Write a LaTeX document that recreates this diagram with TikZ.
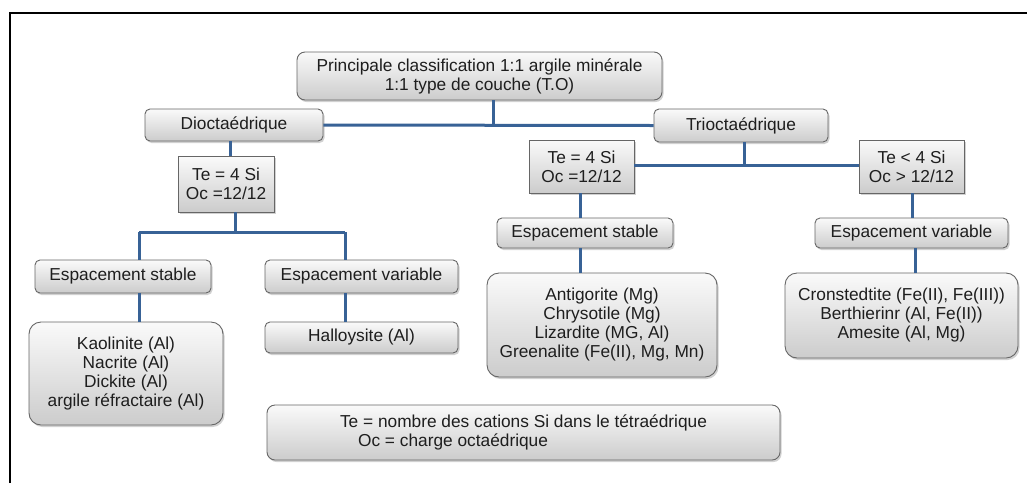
\documentclass[tikz,border=0pt]{standalone}
\usepackage{fontspec}
\setmainfont{Liberation Sans}
\usetikzlibrary{shadows}
\definecolor{linkblue}{RGB}{56,98,150}
\definecolor{txtgray}{RGB}{30,30,30}
\begin{document}
\begin{tikzpicture}[x=1pt,y=-1pt,
  box/.style={draw=black!60, line width=0.9pt, top color=gray!4, bottom color=gray!40,
    drop shadow={shadow xshift=1.5pt, shadow yshift=-2pt, fill=black!40, opacity=0.45},
    text=txtgray, font=\fontsize{17.3}{19}\selectfont, align=center, inner sep=0pt},
  rbox/.style={box, rounded corners=5pt},
  bigbox/.style={box, rounded corners=12pt},
  sbox/.style={box},
  link/.style={draw=linkblue, line width=3pt},
  frame/.style={draw=black, line width=2.5pt}]
\useasboundingbox (0,0) rectangle (1027,483);
\fill[white] (0,0) rectangle (1027,483);
\draw[frame] (10,483) -- (10,13) -- (1027,13);

\node[rbox, rounded corners=8pt, minimum width=365pt, minimum height=48pt] (top) at (479.5,76)
  {Principale classification 1:1 argile minérale\\1:1 type de couche (T.O)};
\node[rbox, minimum width=178pt, minimum height=32pt] (dio) at (234,125) {Dioctaédrique};
\node[rbox, minimum width=174pt, minimum height=33pt] (tri) at (741,125.5) {Trioctaédrique};
\node[sbox, minimum width=96pt, minimum height=56pt] (te1) at (226,184) {Te = 4 Si\\Oc =12/12};
\node[sbox, minimum width=105pt, minimum height=53pt] (te2) at (581.5,166.5) {Te = 4 Si\\Oc =12/12};
\node[sbox, minimum width=105pt, minimum height=53pt] (te3) at (911.5,166.5) {Te < 4 Si\\Oc > 12/12};
\node[rbox, minimum width=176pt, minimum height=33pt] (es1) at (123,276.5) {Espacement stable};
\node[rbox, minimum width=193pt, minimum height=33pt] (ev1) at (361.5,276.5) {Espacement variable};
\node[bigbox, minimum width=194pt, minimum height=103pt] (kao) at (126,373.5)
  {Kaolinite (Al)\\Nacrite (Al)\\Dickite (Al)\\argile réfractaire (Al)};
\node[rbox, minimum width=193pt, minimum height=31pt] (hal) at (361.5,337.5) {Halloysite (Al)};
\node[rbox, minimum width=176pt, minimum height=30pt] (es2) at (585,233) {Espacement stable};
\node[rbox, minimum width=193pt, minimum height=30pt] (ev2) at (911.5,233) {Espacement variable};
\node[bigbox, minimum width=230pt, minimum height=104pt] (ant) at (602,325)
  {Antigorite (Mg)\\Chrysotile (Mg)\\Lizardite (MG, Al)\\Greenalite (Fe(II), Mg, Mn)};
\node[bigbox, minimum width=233pt, minimum height=85pt] (cro) at (901.5,315.5)
  {Cronstedtite (Fe(II), Fe(III))\\Berthierinr (Al, Fe(II))\\Amesite (Al, Mg)};
\node[box, rounded corners=8pt, minimum width=513pt, minimum height=55pt, align=left] (leg) at (523.5,432.5)
  {Te = nombre des cations Si dans le tétraédrique\\\hspace*{18pt}Oc = charge octaédrique};

% connectors
\coordinate (j1) at (493,125);
\coordinate (c1) at (230,0);
\coordinate (c2) at (235,0);
\coordinate (j2) at (235,232);
\coordinate (jl) at (139,232);
\coordinate (jr) at (345,232);
\coordinate (j3) at (744,165);
\coordinate (c3) at (580,0);
\coordinate (c4) at (912,0);
\coordinate (c5) at (915,0);

\draw[link] (dio.east) -- (tri.west);
\draw[link] (top.south -| j1) -- (j1);
\draw[link] (dio.south -| c1) -- (te1.north -| c1);
\draw[link] (te1.south -| c2) -- (j2);
\draw[link] (jl) -- (jr);
\draw[link] (jl) -- (es1.north -| jl);
\draw[link] (jr) -- (ev1.north -| jr);
\draw[link] (es1.south -| jl) -- (kao.north -| jl);
\draw[link] (ev1.south -| jr) -- (hal.north -| jr);
\draw[link] (te2.east |- j3) -- (te3.west |- j3);
\draw[link] (tri.south -| j3) -- (j3);
\draw[link] (te2.south -| c3) -- (es2.north -| c3);
\draw[link] (es2.south -| c3) -- (ant.north -| c3);
\draw[link] (te3.south -| c4) -- (ev2.north -| c4);
\draw[link] (ev2.south -| c5) -- (cro.north -| c5);
\end{tikzpicture}
\end{document}
